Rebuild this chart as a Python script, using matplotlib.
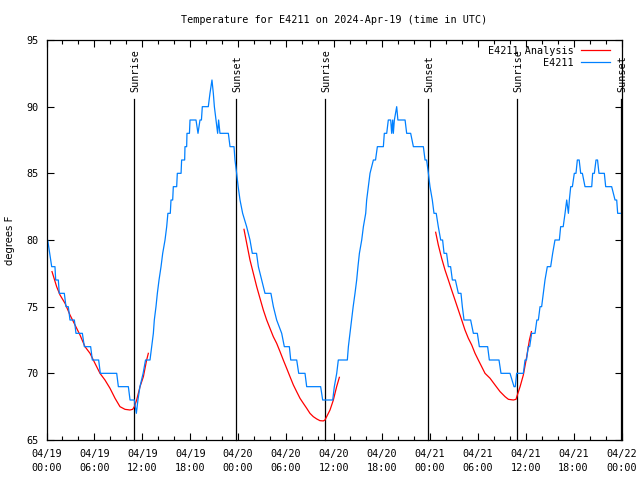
import matplotlib
matplotlib.use("Agg")
import matplotlib.pyplot as plt
import numpy as np

# hours since 2024-04-19 00:00 UTC
blue_t = [0.0, 0.15, 0.4, 0.65, 1.06, 1.15, 1.48, 1.6, 2.23, 2.44, 2.73, 2.94, 3.49, 3.69, 4.49, 4.74,
          5.53, 5.74, 6.53, 6.74, 8.79, 9.0, 10.25, 10.46, 11.0, 11.25, 11.45, 11.7, 12.1, 12.4, 12.96,
          13.17, 13.38, 13.5, 13.71, 13.88, 14.09, 14.34, 14.55, 14.84, 15.05, 15.2, 15.5, 15.59, 15.8,
          15.88, 16.3, 16.38, 16.85, 16.92, 17.3, 17.34, 17.55, 17.59, 17.9, 17.97, 18.72, 18.97, 19.22,
          19.4, 19.51, 20.26, 20.47, 20.72, 20.89, 21.02, 21.22, 21.43, 21.55, 21.72, 22.77, 22.98, 23.48,
          23.6, 23.81, 24.0, 24.23, 24.56, 25.06, 25.48, 25.77, 26.3, 26.53, 26.94, 27.36, 28.1, 28.41,
          28.82, 29.45, 29.78, 30.41, 30.58, 31.33, 31.58, 32.37, 32.58, 34.33, 34.58, 35.84, 36.04, 36.34,
          36.54, 37.67, 37.8, 38.0, 38.2, 38.4, 38.63, 38.84, 39.0, 39.18, 39.47, 39.68, 39.97, 40.09,
          40.3, 40.51, 40.93, 41.2, 41.43, 42.18, 42.3, 42.6, 42.8, 43.1, 43.22, 43.35, 43.43, 43.56,
          43.85, 44.0, 44.9, 45.1, 45.6, 45.94, 47.19, 47.4, 47.6, 47.82, 48.02, 48.31, 48.52, 48.8,
          49.06, 49.36, 49.6, 49.78, 50.1, 50.32, 50.6, 50.82, 51.2, 51.57, 51.9, 52.07, 52.28, 53.11,
          53.45, 53.95, 54.2, 55.24, 55.45, 56.66, 56.91, 58.04, 58.54, 58.7, 58.87, 59.71, 59.92, 60.1,
          60.33, 60.5, 60.75, 61.17, 61.4, 61.59, 61.8, 62.0, 62.21, 62.42, 62.71, 63.13, 63.38, 63.67,
          64.22, 64.38, 64.7, 64.93, 65.14, 65.35, 65.47, 65.64, 65.85, 66.09, 66.3, 66.47, 66.7, 66.89,
          67.1, 67.43, 68.27, 68.39, 68.6, 68.81, 69.0, 69.18, 69.31, 69.85, 70.02, 70.77, 71.19, 71.4,
          71.52, 71.85]
blue_v = [80, 80, 79, 78, 78, 77, 77, 76, 76, 75, 75, 74, 74, 73, 73, 72,
          72, 71, 71, 70, 70, 69, 69, 68, 68, 67, 68, 69, 70, 71, 71,
          72, 73, 74, 75, 76, 77, 78, 79, 80, 81, 82, 82, 83, 83,
          84, 84, 85, 85, 86, 86, 87, 87, 88, 88, 89, 89, 88, 89,
          89, 90, 90, 91, 92, 91, 90, 89, 88, 89, 88, 88, 87, 87,
          86, 85, 84, 83, 82, 81, 80, 79, 79, 78, 77, 76, 76, 75,
          74, 73, 72, 72, 71, 71, 70, 70, 69, 69, 68, 68, 69, 70,
          71, 71, 72, 73, 74, 75, 76, 77, 78, 79, 80, 81, 82, 83,
          84, 85, 86, 86, 87, 87, 88, 88, 89, 89, 88, 89, 88, 89,
          90, 89, 89, 88, 88, 87, 87, 86, 86, 85, 84, 83, 82, 82,
          81, 80, 80, 79, 79, 78, 78, 77, 77, 76, 76, 75, 74, 74,
          73, 73, 72, 72, 71, 71, 70, 70, 69, 69, 70, 70, 71, 71,
          72, 72, 73, 73, 74, 74, 75, 75, 76, 77, 78, 78, 79, 80,
          80, 81, 81, 82, 83, 82, 83, 84, 84, 85, 85, 86, 86, 85,
          85, 84, 84, 85, 85, 86, 86, 85, 85, 85, 84, 84, 83, 83,
          82, 82]

red1_t = [0.69, 1.27, 1.69, 2.32, 2.94, 3.57, 4.19, 4.82, 5.45, 6.07, 6.7, 7.32, 7.95, 8.58, 9.2,
          9.83, 10.45, 10.79, 11.0, 11.29, 11.71, 12.13, 12.54, 12.75]
red1_v = [77.63, 76.5, 75.88, 75.25, 74.38, 73.63, 72.88, 72.0, 71.5, 70.75, 70.0, 69.5, 68.88, 68.13,
          67.5, 67.3, 67.25, 67.3, 67.5, 68.0, 69.0, 69.75, 71.0, 71.5]
red2_t = [24.73, 25.07, 25.48, 25.9, 26.32, 26.73, 27.15, 27.57, 27.98, 28.4, 28.82, 29.24, 29.65,
          30.07, 30.49, 30.91, 31.32, 31.74, 32.16, 32.58, 32.99, 33.41, 33.83, 34.24, 34.66, 34.87,
          35.08, 35.5, 35.92, 36.33, 36.67]
red2_v = [80.8, 79.75, 78.5, 77.5, 76.5, 75.63, 74.75, 74.0, 73.38, 72.75, 72.25, 71.63, 71.0, 70.38,
          69.75, 69.13, 68.63, 68.13, 67.75, 67.38, 67.0, 66.75, 66.58, 66.45, 66.43, 66.5, 66.75,
          67.25, 68.0, 69.0, 69.7]
red3_t = [48.73, 49.06, 49.48, 49.9, 50.32, 50.73, 51.15, 51.57, 51.99, 52.4, 52.82, 53.24, 53.66,
          54.07, 54.49, 54.91, 55.54, 56.16, 56.79, 57.42, 57.84, 58.46, 58.79, 58.96, 59.3, 59.71,
          60.13, 60.47, 60.72]
red3_v = [80.58, 79.63, 78.63, 77.75, 77.0, 76.25, 75.5, 74.75, 74.0, 73.25, 72.63, 72.13, 71.5,
          71.0, 70.5, 70.0, 69.63, 69.13, 68.63, 68.25, 68.05, 68.0, 68.05, 68.38, 69.0, 69.88,
          71.25, 72.5, 73.13]

sun_t = [10.95, 23.78, 34.92, 47.8, 58.93, 71.9]
sun_lab = ["Sunrise", "Sunset", "Sunrise", "Sunset", "Sunrise", "Sunset"]

xtick_pos = [0, 6, 12, 18, 24, 30, 36, 42, 48, 54, 60, 66, 72]
xtick_lab = ["04/19\n00:00", "04/19\n06:00", "04/19\n12:00", "04/19\n18:00",
             "04/20\n00:00", "04/20\n06:00", "04/20\n12:00", "04/20\n18:00",
             "04/21\n00:00", "04/21\n06:00", "04/21\n12:00", "04/21\n18:00",
             "04/22\n00:00"]
ytick_pos = [65, 70, 75, 80, 85, 90, 95]

MONO = "DejaVu Sans Mono"
FS = 7.3

fig = plt.figure(figsize=(6.4, 4.8), dpi=100)
ax = fig.add_axes([46.5 / 640, 1 - 440 / 480, 575 / 640, 400 / 480])

for t, lab in zip(sun_t, sun_lab):
    ax.plot([t, t], [0, 0.8525], color="black", lw=0.9,
            transform=ax.get_xaxis_transform(), clip_on=False)
    ax.text(t + 0.15, 0.87, lab, rotation=90, ha="center", va="bottom",
            transform=ax.get_xaxis_transform(), family=MONO, fontsize=FS)

r1, = ax.plot(red1_t, red1_v, color="#ff0000", lw=0.9, label="E4211 Analysis")
ax.plot(red2_t, red2_v, color="#ff0000", lw=0.9)
ax.plot(red3_t, red3_v, color="#ff0000", lw=0.9)
b1, = ax.plot(blue_t, blue_v, color="#0080ff", lw=0.9, label="E4211")

ax.set_xlim(0, 72)
ax.set_ylim(65, 95)
ax.set_xticks(xtick_pos)
ax.set_xticklabels(xtick_lab, family=MONO, fontsize=FS, linespacing=1.45)
ax.set_xticks(np.arange(0, 73, 2), minor=True)
ax.set_yticks(ytick_pos)
ax.set_yticklabels([str(v) for v in ytick_pos], family=MONO, fontsize=FS)
ax.tick_params(which="both", direction="in", top=True, right=True, width=0.8)
ax.tick_params(which="major", length=5)
ax.tick_params(which="minor", length=3)
ax.tick_params(axis="x", pad=6.5)
ax.tick_params(axis="y", pad=5.5)
for s in ax.spines.values():
    s.set_linewidth(0.9)

leg = ax.legend(handles=[r1, b1], loc="upper right", markerfirst=False, frameon=False,
                prop={"family": MONO, "size": FS}, handlelength=2.9, handletextpad=0.7,
                labelspacing=0.2, borderaxespad=0.0, borderpad=0.0,
                bbox_to_anchor=(0.98, 0.986))

fig.text((46.5 + 621.5) / 2 / 640, 1 - 20 / 480, "Temperature for E4211 on 2024-Apr-19 (time in UTC)",
         ha="center", va="center", family=MONO, fontsize=FS)
fig.text(10 / 640, 0.5, "degrees F", rotation=90, ha="center", va="center",
         family="DejaVu Sans", fontsize=7.3)

fig.savefig("out.png", dpi=100)
